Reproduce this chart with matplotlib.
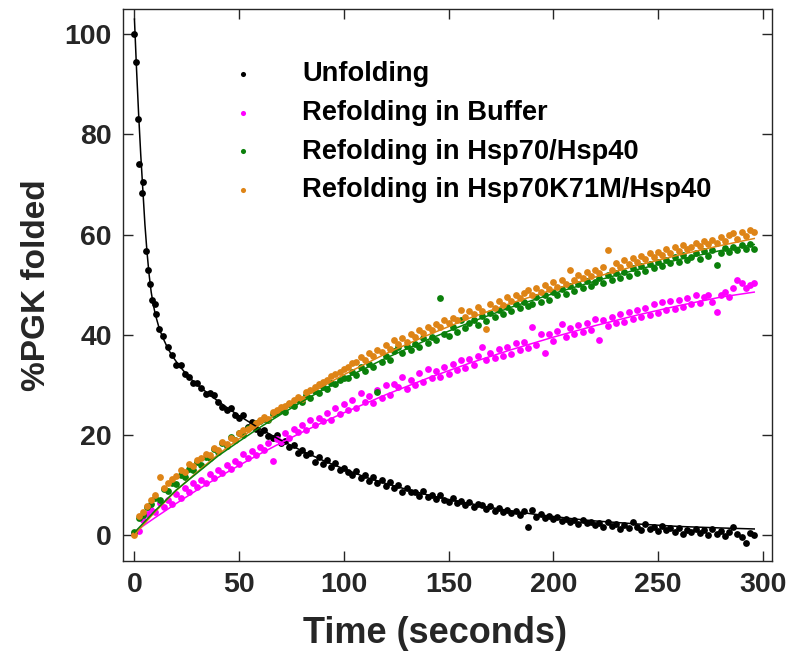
import matplotlib
matplotlib.use("Agg")
import matplotlib.pyplot as plt
import numpy as np

# ---------------- data ----------------
time_grid = [0, 2, 4, 6, 8, 10, 12, 14, 16, 18, 20, 22, 24, 26, 28, 30, 32, 34, 36, 38,
             40, 42, 44, 46, 48, 50, 52, 54, 56, 58, 60, 62, 64, 66, 68, 70, 72, 74, 76, 78,
             80, 82, 84, 86, 88, 90, 92, 94, 96, 98, 100, 102, 104, 106, 108, 110, 112, 114, 116, 118,
             120, 122, 124, 126, 128, 130, 132, 134, 136, 138, 140, 142, 144, 146, 148, 150, 152, 154, 156, 158,
             160, 162, 164, 166, 168, 170, 172, 174, 176, 178, 180, 182, 184, 186, 188, 190, 192, 194, 196, 198,
             200, 202, 204, 206, 208, 210, 212, 214, 216, 218, 220, 222, 224, 226, 228, 230, 232, 234, 236, 238,
             240, 242, 244, 246, 248, 250, 252, 254, 256, 258, 260, 262, 264, 266, 268, 270, 272, 274, 276, 278,
             280, 282, 284, 286, 288, 290, 292, 294, 296]

unfold_time_early = [0, 0.7, 1.6, 2.4, 3.5, 4.1, 5.4, 6.7, 7.3, 8.4, 9.7, 10.5, 11.8, 13.7]
unfold_early = [100.0, 94.4, 83.0, 74.0, 68.3, 70.5, 56.7, 52.9, 50.2, 46.9, 46.2, 44.2, 41.2, 39.7]
unfold_late = [  # t = 16 ... 296 step 2
    37.6, 35.9, 34.0, 33.9, 32.1, 31.6, 30.4, 30.3, 29.3, 28.1,
    28.4, 27.9, 26.6, 25.6, 24.9, 25.3, 24.0, 23.4, 23.9, 21.6,
    22.6, 21.2, 20.3, 21.0, 19.8, 19.3, 19.9, 18.3, 18.8, 17.5,
    17.9, 16.3, 17.0, 15.9, 16.4, 14.6, 15.6, 14.2, 15.0, 13.6,
    14.4, 13.0, 13.4, 12.6, 12.0, 12.8, 11.3, 12.0, 10.8, 11.5,
    10.4, 10.9, 9.8, 10.5, 9.3, 9.9, 8.6, 9.4, 8.5, 8.6,
    7.8, 8.7, 7.6, 8.0, 7.2, 7.9, 7.0, 6.6, 7.3, 6.4,
    6.7, 6.0, 6.6, 5.6, 6.2, 5.9, 5.2, 5.7, 4.8, 5.3,
    4.6, 5.0, 4.3, 4.7, 4.0, 4.8, 1.5, 5.0, 3.6, 4.2,
    3.4, 3.7, 3.1, 3.5, 2.7, 3.2, 2.5, 3.0, 2.2, 2.9,
    2.3, 2.6, 1.9, 2.4, 1.6, 2.5, 1.8, 2.2, 1.2, 1.9,
    1.4, 2.6, 1.5, 1.0, 2.2, 1.1, 1.6, 0.7, 1.8, 0.9,
    1.3, 0.6, 1.4, 0.2, 1.0, 0.6, 1.2, 0.3, 0.9, 0.0,
    1.1, 0.2, 0.7, -0.2, 0.5, 1.5, 0.1, -0.5, -1.6, 0.4,
    0.0]

buffer_vals = [
    0.3, 0.7, 3.0, 4.2, 5.0, 4.6, 6.3, 5.5, 7.0, 6.2,
    8.1, 7.4, 9.4, 8.6, 10.3, 9.5, 11.0, 10.4, 12.2, 11.4,
    12.9, 12.3, 14.0, 13.2, 14.8, 14.2, 16.1, 15.3, 16.8, 16.0,
    17.6, 16.9, 18.3, 14.8, 19.2, 18.6, 20.3, 19.4, 21.2, 20.6,
    22.0, 21.0, 22.9, 21.9, 23.4, 22.8, 24.4, 23.0, 25.3, 24.1,
    26.2, 24.9, 26.9, 25.4, 28.3, 26.6, 27.8, 26.4, 28.9, 27.3,
    29.9, 28.0, 30.2, 29.5, 31.6, 29.1, 31.0, 30.0, 32.4, 30.6,
    33.2, 31.3, 32.8, 31.5, 33.5, 32.1, 34.2, 33.0, 34.9, 33.3,
    35.2, 33.9, 35.8, 37.6, 34.9, 36.4, 35.3, 37.1, 35.8, 37.6,
    36.2, 38.3, 36.9, 38.6, 37.3, 41.6, 38.0, 40.1, 36.3, 40.2,
    38.8, 40.8, 42.2, 39.6, 41.3, 40.1, 42.0, 40.5, 42.3, 41.0,
    43.2, 38.9, 42.9, 41.8, 43.5, 42.3, 44.2, 42.6, 44.6, 43.1,
    45.0, 43.6, 45.3, 44.0, 46.1, 44.3, 46.5, 45.0, 46.7, 45.2,
    47.0, 45.5, 47.4, 46.2, 48.0, 46.3, 47.6, 47.9, 46.5, 44.6,
    47.9, 48.6, 47.6, 49.4, 50.9, 50.4, 49.3, 50.0, 50.3]

hsp_vals = [
    0.6, 3.3, 3.9, 5.6, 6.2, 7.4, 7.0, 9.2, 8.8, 10.4,
    10.1, 12.0, 11.6, 13.2, 12.9, 14.5, 14.0, 15.6, 15.3, 17.2,
    16.6, 18.3, 17.7, 19.6, 19.0, 20.4, 20.0, 21.3, 21.8, 22.3,
    22.7, 23.1, 23.0, 24.2, 24.5, 25.0, 24.6, 26.1, 25.7, 27.0,
    26.5, 27.9, 27.4, 28.8, 28.3, 29.6, 29.2, 30.3, 30.1, 31.0,
    31.4, 31.3, 32.5, 31.9, 33.6, 32.8, 34.2, 33.6, 28.6, 34.6,
    35.8, 35.0, 36.7, 37.6, 36.3, 37.8, 36.9, 38.2, 37.6, 39.3,
    38.4, 39.6, 39.0, 47.4, 40.2, 39.8, 41.5, 40.6, 42.9, 41.3,
    42.4, 43.0, 41.9, 43.8, 42.8, 44.4, 43.5, 44.9, 44.2, 45.6,
    44.7, 46.1, 45.3, 46.6, 45.7, 46.2, 47.5, 46.5, 48.0, 47.0,
    48.5, 47.9, 49.1, 48.2, 49.7, 48.8, 50.2, 49.3, 50.8, 49.8,
    50.6, 51.4, 50.3, 51.9, 50.9, 52.3, 51.4, 52.6, 51.8, 53.3,
    52.4, 53.7, 52.8, 54.2, 53.3, 54.6, 53.8, 55.0, 54.3, 55.5,
    54.6, 55.9, 54.9, 55.6, 56.3, 55.2, 56.7, 55.8, 56.9, 53.9,
    56.4, 57.3, 56.6, 57.6, 56.9, 57.9, 57.2, 58.2, 57.2]

k71m_vals = [
    0.0, 3.7, 4.6, 5.8, 7.0, 7.9, 11.6, 9.4, 10.3, 11.2,
    11.8, 13.0, 12.6, 14.1, 13.8, 15.0, 15.4, 16.2, 16.0, 17.4,
    17.0, 18.5, 18.1, 19.4, 18.9, 20.3, 20.9, 21.1, 21.8, 22.4,
    22.9, 23.6, 23.2, 24.6, 24.9, 25.5, 25.8, 26.4, 26.9, 27.6,
    27.2, 28.6, 28.9, 29.5, 30.2, 30.6, 31.0, 31.7, 32.1, 32.6,
    33.2, 33.5, 34.3, 34.6, 35.6, 34.9, 36.3, 35.8, 37.0, 36.6,
    37.9, 37.2, 38.9, 38.2, 39.4, 38.6, 40.1, 39.5, 40.9, 40.3,
    41.5, 40.9, 42.2, 41.6, 42.9, 42.4, 43.4, 43.0, 44.9, 43.6,
    44.7, 44.1, 45.6, 44.8, 41.2, 46.2, 45.4, 46.8, 46.0, 47.5,
    46.7, 48.0, 47.3, 48.4, 48.9, 48.0, 49.4, 48.6, 50.0, 49.2,
    50.5, 49.6, 50.9, 50.2, 52.9, 51.0, 52.0, 51.4, 52.6, 51.8,
    52.9, 52.3, 53.5, 56.9, 53.0, 54.3, 53.6, 54.9, 54.2, 55.4,
    54.6, 55.8, 55.1, 56.3, 55.5, 56.6, 56.0, 57.2, 56.3, 57.5,
    56.8, 58.0, 57.2, 57.6, 58.4, 57.7, 58.8, 58.1, 58.9, 58.4,
    59.5, 58.7, 59.9, 60.3, 59.2, 60.6, 59.8, 60.9, 60.5]

# fitted curves
unfold_fit_t = [0, 1, 2, 3, 4, 5, 6, 7, 8, 9, 10, 12, 14, 16, 18, 20, 23, 26, 30, 35, 40, 45,
                50, 55, 60, 70, 80, 90, 100, 110, 120, 130, 140, 150, 160, 170, 180, 190,
                200, 210, 220, 240, 260, 280, 296]
unfold_fit = [103, 93, 84, 76, 69, 62, 56.5, 52, 48.5, 46, 44, 41, 39, 37.2, 35.8, 34.6, 33, 31.5,
              30, 28.3, 26.7, 25.2, 23.8, 22.5, 21.2, 18.9, 16.8, 14.9, 13.2, 11.6, 10.3, 9.1,
              8.0, 7.1, 6.3, 5.5, 4.8, 4.2, 3.7, 3.2, 2.8, 2.2, 1.7, 1.4, 1.2]

buffer_fit_t = [2, 10, 20, 30, 40, 50, 60, 70, 80, 90, 100, 120, 140, 160, 180, 200, 220, 240, 260, 280, 296]
buffer_fit = [1.2, 3.5, 6.3, 9.0, 11.5, 13.9, 16.2, 18.4, 20.5, 22.5, 24.4, 28.0, 31.3, 34.3,
              37.0, 39.5, 41.8, 43.9, 45.8, 47.5, 48.5]

ref_fit_t = [0, 10, 20, 30, 40, 50, 60, 70, 80, 90, 100, 120, 140, 160, 180, 200, 220, 240, 260, 280, 296]
hsp_fit = [0.5, 4.9, 9.0, 12.4, 15.8, 18.7, 21.5, 24.1, 26.6, 29.0, 31.2, 35.3, 39.0, 42.4,
           45.5, 48.2, 50.7, 53.0, 55.0, 56.8, 58.0]
k71m_fit = [0.0, 4.7, 8.9, 12.6, 16.1, 19.2, 22.1, 24.8, 27.3, 29.7, 32.0, 36.2, 39.9, 43.3,
            46.3, 49.0, 51.5, 53.8, 55.9, 57.8, 59.2]

labels = ["Unfolding", "Refolding in Buffer", "Refolding in Hsp70/Hsp40",
          "Refolding in Hsp70K71M/Hsp40"]
colors = ["#000000", "#FF00FF", "#0B800B", "#DE8416"]

# ---------------- plot ----------------
plt.rcParams['font.family'] = ['Liberation Sans', 'DejaVu Sans']
plt.rcParams['font.weight'] = 'bold'

fig = plt.figure(figsize=(7.88, 6.55), dpi=100)
ax = fig.add_axes([0.156, 0.1435, 0.824, 0.8425])

unfold_t = unfold_time_early + time_grid[8:]
unfold_v = unfold_early + unfold_late

ms = 24
ax.scatter(unfold_t, unfold_v, s=ms, color=colors[0], linewidths=0, label=labels[0], zorder=3)
ax.scatter(time_grid, buffer_vals, s=ms, color=colors[1], linewidths=0, label=labels[1], zorder=3)
ax.scatter(time_grid, hsp_vals, s=ms, color=colors[2], linewidths=0, label=labels[2], zorder=3)
ax.scatter(time_grid, k71m_vals, s=ms, color=colors[3], linewidths=0, label=labels[3], zorder=3)

ax.plot(unfold_fit_t, unfold_fit, color=colors[0], lw=1.1, zorder=4)
ax.plot(buffer_fit_t, buffer_fit, color=colors[1], lw=1.1, zorder=4)
ax.plot(ref_fit_t, k71m_fit, color=colors[3], lw=1.1, zorder=4)
ax.plot(ref_fit_t, hsp_fit, color=colors[2], lw=1.1, zorder=4)

ax.set_xlim(-5.5, 304.6)
ax.set_ylim(-5.2, 105)
ax.set_xticks([0, 50, 100, 150, 200, 250, 300])
ax.set_yticks([0, 20, 40, 60, 80, 100])

axcol = "#262626"
for sp in ax.spines.values():
    sp.set_color(axcol)
    sp.set_linewidth(1.0)
ax.tick_params(direction='in', length=7, width=1.0, colors=axcol, labelsize=20.5,
               top=True, right=True, pad=8)
for lab in ax.get_xticklabels() + ax.get_yticklabels():
    lab.set_fontweight('bold')

ax.set_xlabel("Time (seconds)", fontsize=26, fontweight='bold', color=axcol)
ax.set_ylabel("%PGK folded", fontsize=24, fontweight='bold', color=axcol)
ax.xaxis.set_label_coords(0.48, -0.100)
ax.yaxis.set_label_coords(-0.110, 0.5)

leg = ax.legend(loc='upper left', bbox_to_anchor=(0.168, 0.906), frameon=False,
                prop={'size': 19.6, 'weight': 'bold'}, markerscale=0.75,
                handlelength=0.8, handletextpad=1.78, labelspacing=0.47, borderpad=0,
                borderaxespad=0, scatterpoints=1)

fig.savefig("out.png", dpi=100)
